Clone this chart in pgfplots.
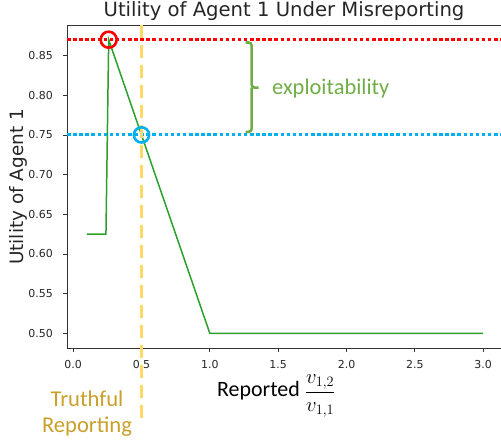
\documentclass[border=0pt]{standalone}
\usepackage{pgfplots}
\pgfplotsset{compat=1.18}
\usepackage{fontspec}
\setmainfont{DejaVu Sans}
\newfontfamily\carl{Carlito}
\definecolor{lgreen}{HTML}{2CA02C}
\definecolor{exgreen}{HTML}{70AD47}
\definecolor{cblue}{HTML}{00B0F0}
\definecolor{cyel}{HTML}{FFD966}
\definecolor{cgold}{HTML}{C8A02A}
\begin{document}
\begin{tikzpicture}
\useasboundingbox (0,0) rectangle (501bp,442bp);
\begin{axis}[
  scale only axis,
  width=436bp, height=323bp,
  at={(67bp,94bp)}, anchor=south west,
  xmin=-0.045, xmax=3.145, ymin=0.4815, ymax=0.8885,
  xtick={0,0.5,1,1.5,2,2.5,3},
  xticklabels={0.0,0.5,1.0,1.5,2.0,2.5,3.0},
  ytick={0.5,0.55,0.6,0.65,0.7,0.75,0.8,0.85},
  yticklabels={0.50,0.55,0.60,0.65,0.70,0.75,0.80,0.85},
  tick align=outside, xtick pos=bottom, ytick pos=left,
  major tick length=4bp,
  axis line style={black!80, line width=0.8bp},
  tick style={black!80, line width=0.8bp},
  tick label style={font=\fontsize{11}{12}\selectfont, text=black!85, inner sep=0pt},
  xticklabel style={anchor=north, yshift=-8bp},
  yticklabel style={anchor=east, xshift=-10bp},
  clip=false,
]
\addplot[lgreen, line width=1.5bp] coordinates {
  (0.1,0.625) (0.24,0.625) (0.26,0.87) (1.0,0.5) (3.0,0.5)
};
\addplot[red, line width=3bp, dash pattern=on 3.5bp off 2.6bp] coordinates {(-0.045,0.87) (3.145,0.87)};
\addplot[cblue, line width=3bp, dash pattern=on 3.5bp off 2.6bp] coordinates {(-0.045,0.75) (3.145,0.75)};
\addplot[cyel, line width=2.5bp, dash pattern=on 13bp off 7bp] coordinates {(0.5,0.8885) (0.5,0.39)};
\addplot[only marks, mark=o, mark size=8bp, mark options={draw=red, line width=2.6bp}] coordinates {(0.26,0.87)};
\addplot[only marks, mark=o, mark size=7.6bp, mark options={draw=cblue, line width=2.6bp}] coordinates {(0.5,0.75)};
\draw[exgreen, line width=2.6bp, rounded corners=3bp]
  (axis cs:1.262,0.8664) -- (axis cs:1.306,0.8664) -- (axis cs:1.306,0.8095) -- (axis cs:1.357,0.8095);
\draw[exgreen, line width=2.6bp, rounded corners=3bp]
  (axis cs:1.306,0.8095) -- (axis cs:1.306,0.7539) -- (axis cs:1.262,0.7539);
\end{axis}
\node[anchor=base, inner sep=0pt] at (284bp,425bp) {\fontsize{19.7}{22}\selectfont\color{black!85}Utility of Agent 1 Under Misreporting};
\node[anchor=base, rotate=90, inner sep=0pt] at (23bp,255bp) {\fontsize{18.5}{22}\selectfont\color{black!85}Utility of Agent 1};
\node[anchor=base west, inner sep=0pt] at (217bp,45bp) {\carl\fontsize{22}{24}\selectfont Reported $\displaystyle\frac{v_{1,2}}{v_{1,1}}$};
\node[anchor=base, inner sep=0pt] at (87bp,36bp) {\carl\fontsize{22.7}{24}\selectfont\color{cgold}Truthful};
\node[anchor=base, inner sep=0pt] at (87bp,10bp) {\carl\fontsize{22.7}{24}\selectfont\color{cgold}Reporting};
\node[anchor=base west, inner sep=0pt] at (272bp,347bp) {\carl\fontsize{22.5}{24}\selectfont\color{exgreen}exploitability};
\end{tikzpicture}
\end{document}
